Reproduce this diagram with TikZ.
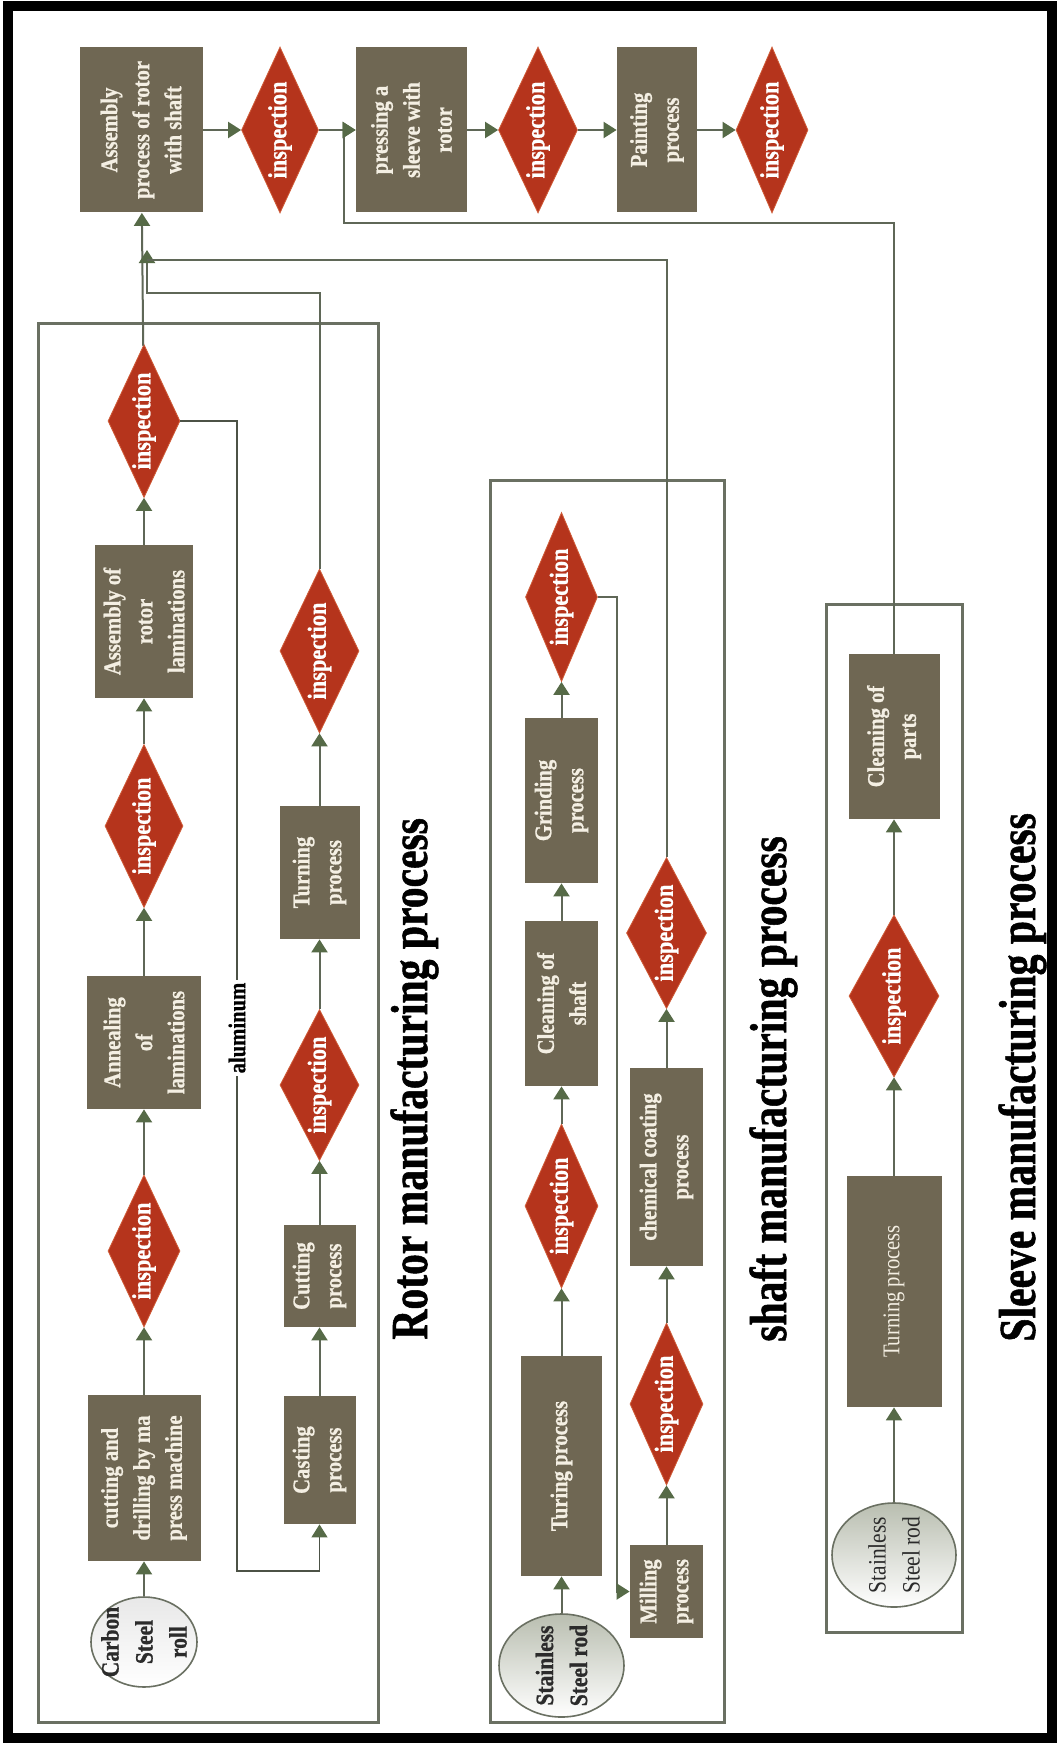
\documentclass[tikz,border=0pt]{standalone}
\usepackage{fontspec}
\setmainfont{Liberation Serif}[FakeStretch=0.86, BoldFeatures={FakeBold=0.8}]
\newfontfamily\headfont{Liberation Serif}[FakeStretch=0.8, BoldFeatures={FakeBold=1}]
\usetikzlibrary{shapes.geometric,arrows.meta}
\definecolor{boxc}{HTML}{6F6753}
\definecolor{boxt}{HTML}{F4EFE3}
\definecolor{diac}{HTML}{B5341C}
\definecolor{diab}{HTML}{CF5A36}
\definecolor{linec}{HTML}{5F6757}
\definecolor{framec}{HTML}{6A7062}
\definecolor{tipc}{HTML}{566A47}
\definecolor{darkt}{HTML}{2B2B2B}
\definecolor{rodc}{HTML}{B9BEB0}
\begin{document}
\begin{tikzpicture}[x=0.5pt,y=-0.5pt,
  box/.style={rectangle, fill=boxc, text=boxt, font=\bfseries\fontsize{12}{16}\selectfont,
    align=center, inner sep=1pt, rotate=90},
  sz/.style 2 args={minimum width=#1*0.5pt, minimum height=#2*0.5pt},
  insp/.style={diamond, shape aspect=2.2, fill=diac, draw=diab, line width=0.4pt, text=white,
    font=\bfseries\fontsize{13}{16}\selectfont, inner sep=0pt, rotate=90},
  disc/.style={ellipse, draw=framec, line width=0.8pt, rotate=90, inner sep=0pt},
  disctext/.style={text=darkt, font=\bfseries\fontsize{12.5}{17}\selectfont, align=center,
    rotate=90, inner sep=0pt},
  conn/.style={draw=linec, line width=1pt},
  arr/.style={conn, -{Triangle[length=6.5pt,width=8pt,color=tipc]}},
  thinarr/.style={draw=linec!80!black, line width=0.6pt, -{Triangle[length=6.5pt,width=8pt,color=tipc]}},
  frame/.style={draw=framec, line width=1.5pt},
  head/.style={font=\headfont\bfseries\fontsize{26}{30}\selectfont, rotate=90,
    anchor=base west, inner sep=0pt},
]
\useasboundingbox (0,0) rectangle (1059,1744);
\fill[white] (0,0) rectangle (1059,1744);
\draw[black, line width=5pt] (8,6) rectangle (1052,1738);

% group frames
\draw[frame] (38,323) rectangle (378,1722);
\draw[frame] (490,480) rectangle (724,1722);
\draw[frame] (826,604) rectangle (962,1632);

% final assembly line
\node[box, sz={165}{123}] (asm) at (141,130) {Assembly\\process of rotor\\with shaft};
\node[insp, sz={166}{77}] (d1) at (280,130) {inspection};
\node[box, sz={165}{111}] (press) at (411.5,130) {pressing a\\sleeve with\\rotor};
\node[insp, sz={166}{79}] (d2) at (538,130) {inspection};
\node[box, sz={165}{80}] (paint) at (657,130) {Painting\\process};
\node[insp, sz={166}{72}] (d3) at (772,130) {inspection};

% rotor: laminations
\node[disc, sz={90}{106}, top color=gray!18, bottom color=white] (csr) at (144,1642) {};
\node[disctext] (csrt) at (csr) {Carbon\\Steel\\roll};
\node[box, sz={166}{113}] (cut) at (144,1478) {cutting and\\drilling by ma\\press machine};
\node[insp, sz={152}{72}] (ri1) at (144,1251) {inspection};
\node[box, sz={133}{114}] (anneal) at (144,1042.5) {Annealing\\of\\laminations};
\node[insp, sz={163}{78}] (ri2) at (144,826) {inspection};
\node[box, sz={153}{98}] (asmlam) at (144,621.5) {Assembly of\\rotor\\laminations};
\node[insp, sz={153}{72}] (ri3) at (144,421) {inspection};

% rotor: cage
\node[box, sz={128}{72}] (casting) at (319.5,1460) {Casting\\process};
\node[box, sz={102}{72}] (cutting) at (319.5,1276) {Cutting\\process};
\node[insp, sz={151}{79}] (ti1) at (319.5,1085) {inspection};
\node[box, sz={133}{80}] (turning) at (319.5,872.5) {Turning\\process};
\node[insp, sz={164}{79}] (ti2) at (319.5,651) {inspection};

% shaft
\node[disc, sz={103}{125}, top color=rodc, bottom color=white] (ssa) at (561.5,1665.5) {};
\node[disctext] (ssat) at (ssa) {Stainless\\Steel rod};
\node[box, sz={220}{81}] (turing) at (561.5,1466) {Turing process};
\node[insp, sz={164}{73}] (si1) at (561.5,1206) {inspection};
\node[box, sz={165}{73}] (cshaft) at (561.5,1003.5) {Cleaning of\\shaft};
\node[box, sz={165}{73}] (grind) at (561.5,800.5) {Grinding\\process};
\node[insp, sz={169}{72}] (si2) at (561.5,597) {inspection};
\node[box, sz={93}{73}] (mill) at (666.5,1591.5) {Milling\\process};
\node[insp, sz={162}{73}] (ci1) at (666.5,1404) {inspection};
\node[box, sz={198}{73}] (chem) at (666.5,1167) {chemical coating\\process};
\node[insp, sz={151}{80}] (ci2) at (666.5,933) {inspection};

% sleeve
\node[disc, sz={104}{124}, top color=rodc, bottom color=white] (ssb) at (894,1555) {};
\node[disctext, font=\fontsize{12.5}{17}\selectfont] (ssbt) at (ssb) {Stainless\\Steel rod};
\node[box, sz={231}{95}, font=\fontsize{12}{16}\selectfont] (sturn) at (894,1291.5) {Turning process};
\node[insp, sz={162}{90}] (vi) at (894,996) {inspection};
\node[box, sz={165}{91}] (cparts) at (894,736.5) {Cleaning of\\parts};

% headings
\node[head] (trotor) at (427,1340) {Rotor manufacturing process};
\node[head] (tshaft) at (786,1342) {shaft manufacturing process};
\node[head] (tsleeve) at (1035,1342) {Sleeve manufacturing process};

% connectors: final line
\draw[arr] (asm) -- (d1);
\draw[arr] (d1) -- (press);
\draw[arr] (press) -- (d2);
\draw[arr] (d2) -- (paint);
\draw[arr] (paint) -- (d3);

% connectors: rotor
\draw[arr] (csr) -- (cut);
\draw[arr] (cut) -- (ri1);
\draw[arr] (ri1) -- (anneal);
\draw[arr] (anneal) -- (ri2);
\draw[arr] (ri2) -- (asmlam);
\draw[arr] (asmlam) -- (ri3);
\draw[arr] (ri3) -- (asm);
\draw[arr] (casting) -- (cutting);
\draw[arr] (cutting) -- (ti1);
\draw[arr] (ti1) -- (turning);
\draw[arr] (turning) -- (ti2);
\coordinate (merge) at (147,250);
\draw[arr] (ti2) -- (319.5,293) -| (merge);
\draw[thinarr] (ri3) -- (237,421) -- (237,1571) -| (casting);
\node[fill=white, rotate=90, inner sep=1.5pt, text=black,
  font=\bfseries\fontsize{12}{14}\selectfont] (alu) at (237,1028) {aluminum};

% connectors: shaft
\draw[arr] (ssa) -- (turing);
\draw[arr] (turing) -- (si1);
\draw[arr] (si1) -- (cshaft);
\draw[arr] (cshaft) -- (grind);
\draw[arr] (grind) -- (si2);
\draw[arr] (si2) -- (617,597) |- (mill);
\draw[arr] (mill) -- (ci1);
\draw[arr] (ci1) -- (chem);
\draw[arr] (chem) -- (ci2);
\draw[conn] (ci2) -- (666.5,260) -- (147,260);

% connectors: sleeve
\draw[arr] (ssb) -- (sturn);
\draw[arr] (sturn) -- (vi);
\draw[arr] (vi) -- (cparts);
\draw[arr] (cparts) -- (894,223) -- (344,223) |- (press);
\end{tikzpicture}
\end{document}
